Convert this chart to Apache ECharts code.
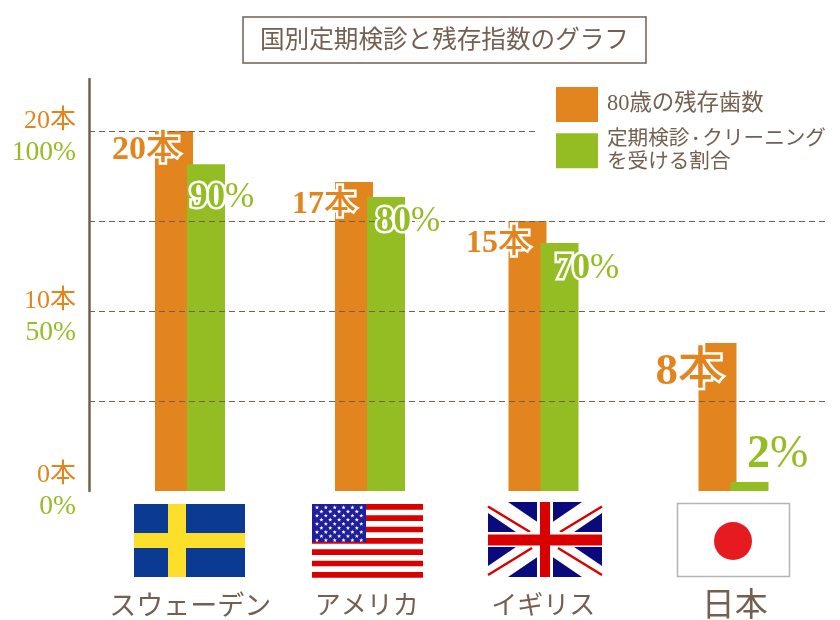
<!DOCTYPE html>
<html>
<head>
<meta charset="utf-8">
<style>html,body{margin:0;padding:0;background:#fff}#chart{width:840px;height:620px}</style>
<script src="https://cdn.jsdelivr.net/npm/echarts@6/dist/echarts.min.js"></script>
</head>
<body>
<div id="chart"></div>
<script>
// Values
const countries = ['スウェーデン', 'アメリカ', 'イギリス', '日本'];
const teethHeights = [20, 17.17, 15, 8.22];
const rateHeights = [90.8, 81.7, 68.9, 2.5];
const teethNumbers = ['20', '17', '15', '8'];
const rateNumbers = ['90', '80', '70', '2'];
const tickValues = [0, 10, 20];
const tickTeeth = ['0本', '10本', '20本'];
const tickRates = ['0%', '50%', '100%'];

const BROWN = '#75604f';
const ORANGE = '#e3851f';
const GREEN = '#94bd24';
const FONT = '"Liberation Serif","Noto Sans CJK JP",serif';
const TEETH_MAX = 22.89;

// The groups are not evenly spaced in the reference, px shift from the category centre
const groupShift = [8.75, 4.25, -6.75, -1.25];
const barWidth = 38;
// [dx from group centre, dy from bar top, font size]
const teethLabelPlace = [[-10, 19, 34], [-14, 23, 32], [-13.5, 23, 32], [-10.5, 29, 45]];
const rateLabelPlace = [[0, 34, 35], [6, 25, 35], [11.5, 26, 35], [13.5, -27, 46]];

function barSeries(name, values, color, yAxisIndex, startOffset, z) {
  return {
    name: name,
    type: 'custom',
    yAxisIndex: yAxisIndex,
    z: z,
    itemStyle: {color: color},
    encode: {x: 0, y: 1},
    data: values.map((v, i) => [i, v]),
    renderItem: function (params, api) {
      const i = api.value(0);
      const top = api.coord([i, api.value(1)]);
      const bottom = api.coord([i, 0]);
      return {
        type: 'rect',
        shape: {
          x: top[0] + groupShift[i] + startOffset,
          y: top[1],
          width: barWidth,
          height: bottom[1] - top[1]
        },
        style: {fill: color}
      };
    }
  };
}

// number is bold, the unit after it stays lighter like in the reference
function labelSeries(name, values, numbers, unit, unitWeight, place, color, align, yAxisIndex) {
  return {
    name: name,
    type: 'custom',
    yAxisIndex: yAxisIndex,
    z: 6,
    silent: true,
    encode: {x: 0, y: 1},
    data: values.map((v, i) => [i, v]),
    renderItem: function (params, api) {
      const i = api.value(0);
      const top = api.coord([i, api.value(1)]);
      const size = place[i][2];
      return {
        type: 'text',
        x: top[0] + groupShift[i] + place[i][0],
        y: top[1] + place[i][1],
        style: {
          text: `{n|${numbers[i]}}{u|${unit}}`,
          fill: color,
          stroke: '#fff',
          lineWidth: 5,
          fontFamily: FONT,
          fontSize: size,
          align: align,
          verticalAlign: 'middle',
          rich: {
            n: {fontFamily: FONT, fontSize: size, fontWeight: 'bold', fill: color},
            u: {fontFamily: FONT, fontSize: size, fontWeight: unitWeight, fill: color}
          }
        }
      };
    }
  };
}

// ---- flags, plain decoration under the axis ----
function rect(x, y, w, h, fill, stroke) {
  return {type: 'rect', shape: {x: x, y: y, width: w, height: h},
    style: {fill: fill, stroke: stroke || null, lineWidth: stroke ? 1.5 : 0}};
}
function line(x1, y1, x2, y2, color, width) {
  return {type: 'line', shape: {x1: x1, y1: y1, x2: x2, y2: y2}, style: {stroke: color, lineWidth: width}};
}
function poly(points, fill) {
  return {type: 'polygon', shape: {points: points}, style: {fill: fill}};
}
function star(cx, cy, r) {
  const pts = [];
  for (let k = 0; k < 10; k++) {
    const a = -Math.PI / 2 + k * Math.PI / 5;
    const d = k % 2 ? r * 0.42 : r;
    pts.push([cx + d * Math.cos(a), cy + d * Math.sin(a)]);
  }
  return poly(pts, '#fff');
}

function sweden() {
  return [
    rect(134, 504, 111, 73, '#0b3a92'),
    rect(168, 504, 18, 73, '#fbdf2a'),
    rect(134, 533, 111, 15, '#fbdf2a')
  ];
}
function usa() {
  const out = [];
  for (let s = 0; s < 7; s++) {
    out.push(rect(312, 504 + s * 11.33, 111, 5.7, '#d90000'));
  }
  out.push(rect(312, 504, 54, 38, '#1f1f9b'));
  for (let row = 0; row < 9; row++) {
    const odd = row % 2;
    for (let col = 0; col < (odd ? 5 : 6); col++) {
      out.push(star(317 + (odd ? 4.4 : 0) + col * 8.85, 507.5 + row * 4.1, 2.2));
    }
  }
  return out;
}
function uk() {
  return [
    rect(488, 502, 114, 75, '#0a0a7c'),
    poly([[488, 502], [508, 502], [602, 566], [602, 577], [582, 577], [488, 513]], '#fff'),
    poly([[602, 502], [582, 502], [488, 566], [488, 577], [508, 577], [602, 513]], '#fff'),
    line(488, 506.5, 530, 532, '#d90000', 2.5),
    line(602, 506.5, 560, 532, '#d90000', 2.5),
    line(488, 575, 532, 548, '#d90000', 2.5),
    line(602, 575, 558, 548, '#d90000', 2.5),
    rect(537, 502, 16, 75, '#fff'),
    rect(488, 532, 114, 15, '#fff'),
    rect(540, 502, 10, 75, '#d90000'),
    rect(488, 534.5, 114, 11, '#d90000')
  ];
}
function japan() {
  return [
    rect(677.5, 503.5, 112, 73, '#fff', '#b5b5b5'),
    {type: 'circle', shape: {cx: 733, cy: 541, r: 19}, style: {fill: '#e71a1f'}}
  ];
}

const legendTeeth = '80歳の残存歯数';
const legendRate = '定期検診・クリーニング\nを受ける割合';

const chart = echarts.init(document.getElementById('chart'));

chart.setOption({
  animation: false,
  backgroundColor: '#fff',
  textStyle: {fontFamily: FONT},
  title: {
    text: '国別定期検診と残存指数のグラフ',
    left: 243,
    top: 17,
    padding: [12, 17, 9, 17],
    borderColor: BROWN,
    borderWidth: 1.5,
    textStyle: {color: BROWN, fontFamily: FONT, fontSize: 24.6, fontWeight: 'normal', lineHeight: 25}
  },
  legend: {
    data: [legendTeeth, legendRate],
    orient: 'vertical',
    left: 535,
    top: 81,
    z: 4,
    // white backing also stops the top dashed line short of the legend
    backgroundColor: '#fff',
    padding: [6, 13, 6, 21],
    itemWidth: 42,
    itemHeight: 35,
    itemGap: 7,
    icon: 'rect',
    selectedMode: false,
    formatter: function (name) {
      if (name === legendTeeth) {
        return `{a|${name}}`;
      }
      return '{b|定期検診}{d|・}{b|クリーニング}\n{b|を受ける割合}';
    },
    textStyle: {
      color: BROWN,
      fontFamily: FONT,
      padding: [0, 0, 0, 4],
      rich: {
        a: {fontSize: 22.4, color: BROWN, fontFamily: FONT},
        b: {fontSize: 20.6, lineHeight: 23, color: BROWN, fontFamily: FONT},
        d: {fontSize: 13, lineHeight: 23, fontWeight: 'bold', color: BROWN, fontFamily: FONT}
      }
    }
  },
  grid: {left: 89, right: 13, top: 79, bottom: 129, outerBoundsMode: 'none'},
  xAxis: {
    type: 'category',
    data: countries,
    axisLine: {show: false},
    axisTick: {show: false},
    axisLabel: {
      interval: 0,
      margin: 103,
      formatter: (value, index) => `{c${index}|${value}}`,
      rich: {
        c0: {fontSize: 27, color: BROWN, fontFamily: FONT, padding: [0, 0, 0, 18]},
        c1: {fontSize: 26, color: BROWN, fontFamily: FONT, padding: [0, 0, 0, 2]},
        c2: {fontSize: 26, color: BROWN, fontFamily: FONT, padding: [0, 14, 0, 0]},
        c3: {fontSize: 33, color: BROWN, fontFamily: FONT, padding: [-3, 0, 0, 0]}
      }
    }
  },
  yAxis: [
    {
      type: 'value',
      min: 0,
      max: TEETH_MAX,
      interval: 5,
      z: 3,
      axisLine: {show: true, lineStyle: {color: BROWN, width: 2.5}},
      axisTick: {show: false},
      splitLine: {
        show: true,
        showMinLine: false,
        showMaxLine: false,
        lineStyle: {color: BROWN, width: 1, type: [6, 4]}
      },
      axisLabel: {
        margin: 13,
        showMaxLabel: false,
        formatter: function (value) {
          const k = tickValues.indexOf(value);
          if (k < 0) return '';
          // the upper two ticks sit lower against their gridline than the bottom one
          const pre = value === 0 ? '' : 'h';
          return `{${pre}t|${tickTeeth[k]}}\n{${pre}r|${tickRates[k]}}`;
        },
        rich: {
          t: {fontSize: 26, lineHeight: 31, color: ORANGE, fontFamily: FONT, align: 'right'},
          r: {fontSize: 27.5, lineHeight: 31, color: GREEN, fontFamily: FONT, align: 'right'},
          ht: {fontSize: 26, lineHeight: 44, color: ORANGE, fontFamily: FONT, align: 'right'},
          hr: {fontSize: 27.5, lineHeight: 20, color: GREEN, fontFamily: FONT, align: 'right'}
        }
      }
    },
    // percent scale, 100% sits level with 20本
    {type: 'value', min: 0, max: TEETH_MAX * 5, show: false, splitLine: {show: false}}
  ],
  series: [
    barSeries(legendTeeth, teethHeights, ORANGE, 0, -35, 1),
    barSeries(legendRate, rateHeights, GREEN, 1, -3, 2),
    labelSeries('teethText', teethHeights, teethNumbers, '本', 500, teethLabelPlace, ORANGE, 'right', 0),
    labelSeries('rateText', rateHeights, rateNumbers, '%', 'normal', rateLabelPlace, GREEN, 'left', 1)
  ],
  graphic: {elements: [].concat(sweden(), usa(), uk(), japan())}
});

window.addEventListener('resize', function () {
  chart.resize();
});
</script>
</body>
</html>
